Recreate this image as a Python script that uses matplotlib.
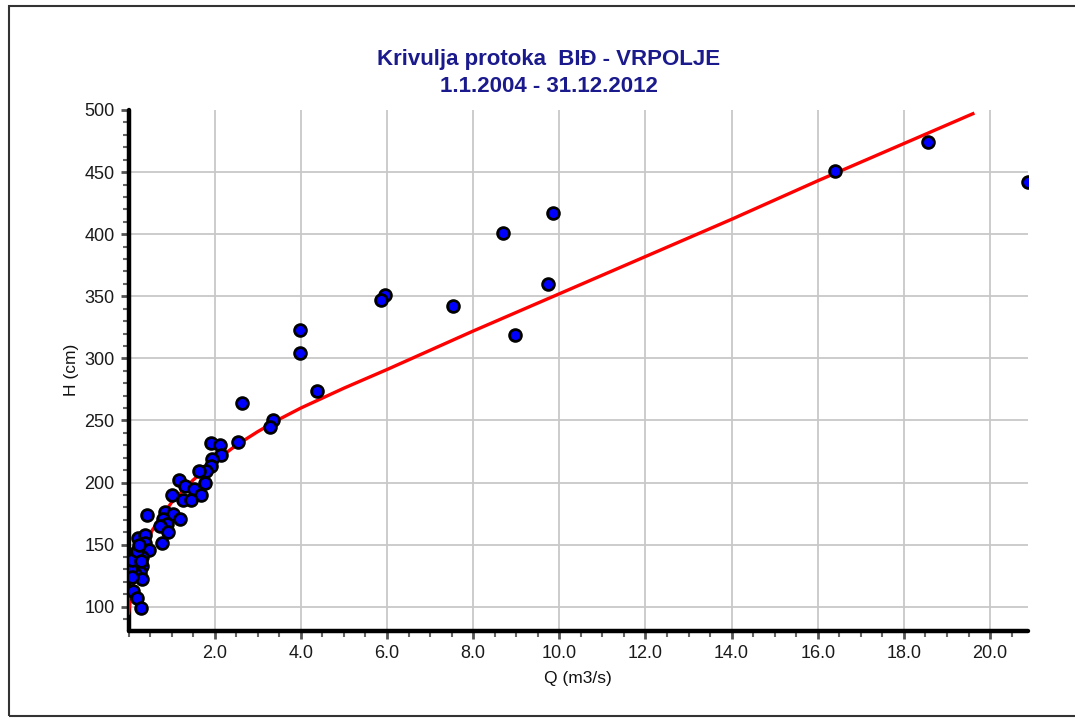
import matplotlib
matplotlib.use("Agg")
import matplotlib.pyplot as plt
from matplotlib.ticker import MultipleLocator
from matplotlib.patches import Rectangle

plt.rcParams['font.family'] = ['Liberation Sans', 'DejaVu Sans']

# Measured points (Q m3/s, H cm)
q_meas = [20.88, 18.55, 16.4, 9.86, 8.70, 9.74, 8.98, 7.54, 5.95, 5.87, 3.98, 3.98, 4.37,
          2.63, 3.36, 3.28, 2.55,
          1.91, 2.12, 2.15, 1.93, 1.91, 1.81, 1.64, 1.77, 1.18, 1.31, 1.52, 1.68, 1.02,
          1.27, 1.45, 0.42, 0.85, 1.04, 1.19, 0.81, 0.89, 0.73, 0.91, 0.78,
          0.23, 0.38, 0.38, 0.48, 0.31, 0.11, 0.15, 0.31, 0.27, 0.15, 0.31, 0.11, 0.19,
          0.28, 0.05, 0.08, 0.20, 0.25, 0.30, 0.08]
h_meas = [442, 474, 451, 417, 401, 360, 319, 342, 351, 347, 323, 304, 274,
          264, 250, 245, 233,
          232, 230, 222, 219, 213, 209, 209, 200, 202, 197, 195, 190, 190,
          186, 186, 174, 176, 175, 171, 171, 167, 165, 160, 151,
          155, 158, 151, 146, 140, 135, 132, 133, 128, 126, 122, 113, 107,
          99, 130, 138, 145, 150, 137, 124]

# Rating curve
q_curve = [0.0, 0.03, 0.1, 0.25, 0.54, 1.0, 1.5, 2.0, 2.5, 3.0, 3.5, 4.0, 5.0, 6.0,
           8.0, 10.0, 12.0, 14.0, 16.0, 18.0, 19.6]
h_curve = [95, 103, 117, 134, 161, 184, 202, 217, 230, 241, 251, 260, 276, 291,
           322, 352, 382, 412, 443, 473, 497]

x_ticks = [2, 4, 6, 8, 10, 12, 14, 16, 18, 20]
x_ticklabels = ['2.0', '4.0', '6.0', '8.0', '10.0', '12.0', '14.0', '16.0', '18.0', '20.0']
y_ticks = [100, 150, 200, 250, 300, 350, 400, 450, 500]

fig = plt.figure(figsize=(10.75, 7.19), dpi=100)
ax = fig.add_axes([128.5 / 1075, 1 - 630.7 / 719, (1028 - 128.5) / 1075, (630.7 - 110) / 719])

ax.set_xlim(0, 20.88)
ax.set_ylim(80.7, 500)

ax.set_xticks(x_ticks)
ax.set_xticklabels(x_ticklabels)
ax.set_yticks(y_ticks)
ax.xaxis.set_minor_locator(MultipleLocator(0.5))
ax.yaxis.set_minor_locator(MultipleLocator(10))

ax.grid(True, which='major', color='#c8c8c8', linewidth=1.3, zorder=0)
ax.yaxis.get_gridlines()[-1].set_visible(False)
ax.set_axisbelow(True)

ax.tick_params(which='major', direction='out', length=6, width=2, color='#555555',
               labelsize=13, labelcolor='#1a1a1a', pad=4)
ax.tick_params(which='minor', direction='out', length=4, width=1.5, color='#666666')

for s in ['top', 'right']:
    ax.spines[s].set_visible(False)
for s in ['left', 'bottom']:
    ax.spines[s].set_linewidth(3.2)
    ax.spines[s].set_color('black')
    ax.spines[s].set_capstyle('round')

ax.plot(q_curve, h_curve, color='#ff0000', linewidth=2.4, zorder=3, clip_on=True)
ax.scatter(q_meas, h_meas, s=72, c='#0000ff', edgecolors='black', linewidths=2.0, zorder=4)

ax.set_xlabel('Q (m3/s)', fontsize=12.5, color='#111111', labelpad=7)
ax.set_ylabel('H (cm)', fontsize=12.5, color='#111111', labelpad=4)

fig.text(549 / 1075, 1 - 60 / 719, 'Krivulja protoka  BIĐ - VRPOLJE', ha='center', va='center',
         fontsize=16, fontweight='bold', color='#1a1a8c')
fig.text(549 / 1075, 1 - 87 / 719, '1.1.2004 - 31.12.2012', ha='center', va='center',
         fontsize=16, fontweight='bold', color='#1a1a8c')

fig.patches.append(Rectangle((9 / 1075, 3 / 719), 1.2, 1 - 9 / 719, transform=fig.transFigure,
                             fill=False, edgecolor='#333333', linewidth=1.5))

fig.savefig('out.png', dpi=100)
